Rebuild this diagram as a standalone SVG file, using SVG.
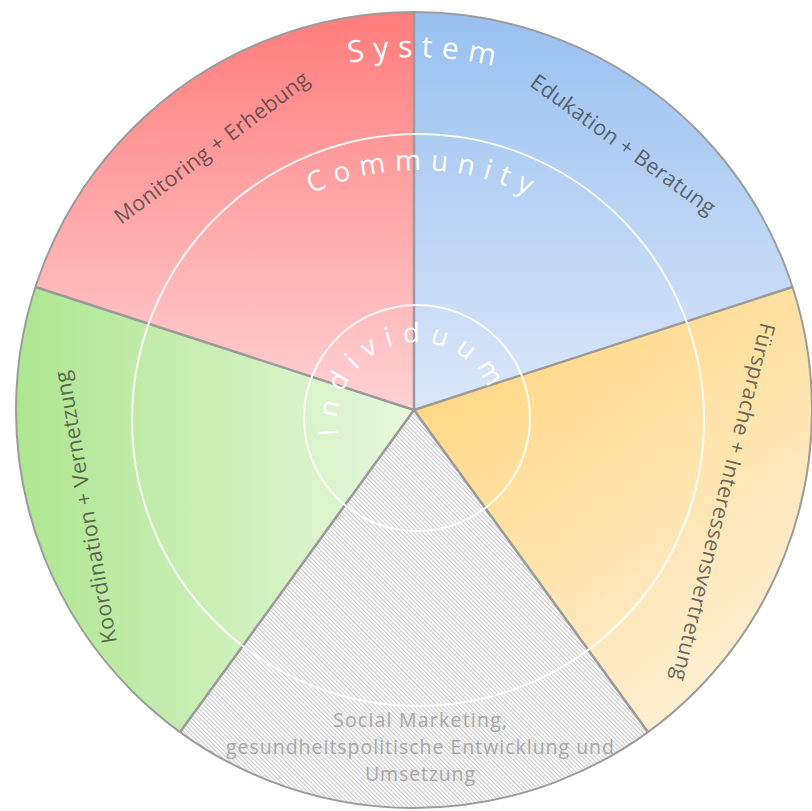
<svg xmlns="http://www.w3.org/2000/svg" width="812" height="811" viewBox="0 0 812 811">
  <style>
    .sector { stroke: none; }
    .divider { stroke: #9a9a9a; stroke-width: 2.5; fill: none; }
    .ring { stroke: #ffffff; stroke-width: 2; fill: none; opacity: 0.9; }
    .arc-label { font-family: "Open Sans", "Liberation Sans", sans-serif; fill: #ffffff; }
    .label { font-family: "Open Sans", "Liberation Sans", sans-serif; font-size: 21.5px; letter-spacing: 0.3px; fill: #333333; fill-opacity: 0.72; text-anchor: middle; }
    .gray-label { font-family: "Open Sans", "Liberation Sans", sans-serif; font-size: 19.5px; fill: #a8a8a8; text-anchor: middle; }
  </style>
  <defs>
    <linearGradient id="gRed" gradientUnits="userSpaceOnUse" x1="0" y1="12" x2="0" y2="410">
      <stop offset="0" stop-color="#ff7c7c"/>
      <stop offset="1" stop-color="#ffd2d4"/>
    </linearGradient>
    <linearGradient id="gBlue" gradientUnits="userSpaceOnUse" x1="0" y1="12" x2="0" y2="410">
      <stop offset="0" stop-color="#98c0f0"/>
      <stop offset="1" stop-color="#dbe7f9"/>
    </linearGradient>
    <linearGradient id="gOrange" gradientUnits="userSpaceOnUse" x1="440" y1="380" x2="700" y2="730">
      <stop offset="0" stop-color="#ffd885"/>
      <stop offset="1" stop-color="#fdf0d6"/>
    </linearGradient>
    <linearGradient id="gGreen" gradientUnits="userSpaceOnUse" x1="16" y1="0" x2="414" y2="0">
      <stop offset="0" stop-color="#aee690"/>
      <stop offset="1" stop-color="#e8f8de"/>
    </linearGradient>
    <pattern id="hatch" patternUnits="userSpaceOnUse" width="3" height="3" patternTransform="rotate(45)">
      <rect width="3" height="3" fill="#f6f6f6"/>
      <line x1="0" y1="0.5" x2="3" y2="0.5" stroke="#cdcdcd" stroke-width="0.9"/>
    </pattern>
    <path id="pSystem" d="M61,410 A353,353 0 0 1 767,410"/>
    <path id="pCommunity" d="M168,420 A250,250 0 0 1 668,420"/>
    <path id="pIndividuum" d="M429.5,501 A80,80 0 0 1 397.6,344.4 A80,80 0 0 1 443,497.6"/>
  </defs>

  <g id="sector-monitoring">
    <path class="sector" fill="url(#gRed)" d="M414,410 L35.5,287 A398,398 0 0 1 414,12 Z"/>
  </g>
  <g id="sector-edukation">
    <path class="sector" fill="url(#gBlue)" d="M414,410 L414,12 A398,398 0 0 1 792.5,287 Z"/>
  </g>
  <g id="sector-fuersprache">
    <path class="sector" fill="url(#gOrange)" d="M414,410 L792.5,287 A398,398 0 0 1 647.9,732 Z"/>
  </g>
  <g id="sector-social">
    <path class="sector" fill="url(#hatch)" d="M414,410 L647.9,732 A398,398 0 0 1 180.1,732 Z"/>
  </g>
  <g id="sector-koordination">
    <path class="sector" fill="url(#gGreen)" d="M414,410 L180.1,732 A398,398 0 0 1 35.5,287 Z"/>
  </g>

  <g id="connectors">
    <line class="divider" x1="414" y1="410" x2="414" y2="12"/>
    <line class="divider" x1="414" y1="410" x2="792.5" y2="287"/>
    <line class="divider" x1="414" y1="410" x2="647.9" y2="732"/>
    <line class="divider" x1="414" y1="410" x2="180.1" y2="732"/>
    <line class="divider" x1="414" y1="410" x2="35.5" y2="287"/>
    <circle cx="414" cy="410" r="398" fill="none" stroke="#9c9c9c" stroke-width="2"/>
  </g>

  <g id="ring-community">
    <circle class="ring" cx="418" cy="420" r="286"/>
  </g>
  <g id="ring-individuum">
    <circle class="ring" cx="417" cy="418" r="113"/>
  </g>

  <g id="level-labels">
    <text class="arc-label" font-size="30" letter-spacing="9"><textPath href="#pSystem" startOffset="51.1%" text-anchor="middle">System</textPath></text>
    <text class="arc-label" font-size="28" letter-spacing="9"><textPath href="#pCommunity" startOffset="50.8%" text-anchor="middle">Community</textPath></text>
    <text class="arc-label" font-size="27" letter-spacing="9.5"><textPath href="#pIndividuum" startOffset="50%" text-anchor="middle">Individuum</textPath></text>
  </g>

  <g id="label-monitoring">
    <text class="label" transform="translate(212,148) rotate(-37)" y="7">Monitoring + Erhebung</text>
  </g>
  <g id="label-edukation">
    <text class="label" transform="translate(623,145) rotate(36)" y="7">Edukation + Beratung</text>
  </g>
  <g id="label-fuersprache">
    <text class="label" transform="translate(723,502) rotate(104)" y="7">Fürsprache + Interessensvertretung</text>
  </g>
  <g id="label-koordination">
    <text class="label" transform="translate(86,507) rotate(-100)" y="7">Koordination + Vernetzung</text>
  </g>
  <g id="label-social">
    <text class="gray-label" x="420" y="727" textLength="174" lengthAdjust="spacing">Social Marketing,</text>
    <text class="gray-label" x="420" y="754" textLength="388" lengthAdjust="spacing">gesundheitspolitische Entwicklung und</text>
    <text class="gray-label" x="420" y="781" textLength="110" lengthAdjust="spacing">Umsetzung</text>
  </g>
</svg>
